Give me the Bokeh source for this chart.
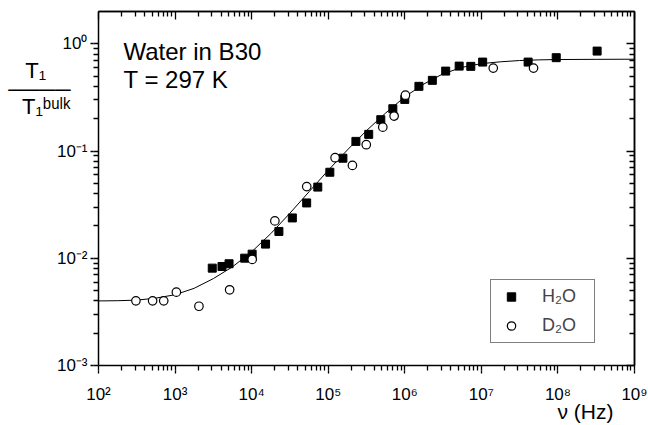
from bokeh.plotting import figure
from bokeh.models import (Range1d, FixedTicker, LogAxis, Label,
                          Legend, LegendItem, CustomJSTickFormatter)
from bokeh.embed import file_html
from bokeh.resources import INLINE

# ---------------- data ----------------
h2o_nu = [3060, 4100, 5070, 8110, 10150, 15200, 22700, 34000, 52300, 73100,
          105000, 155500, 230000, 338000, 486000, 698000, 1.0e6, 1.53e6,
          2.29e6, 3.42e6, 5.13e6, 7.28e6, 1.04e7, 4.08e7, 9.5e7, 3.25e8]
h2o_ratio = [0.00809, 0.00838, 0.00889, 0.01002, 0.01092, 0.01355, 0.01778,
             0.02377, 0.0328, 0.0461, 0.0634, 0.0857, 0.123, 0.143, 0.196,
             0.248, 0.303, 0.401, 0.456, 0.556, 0.619, 0.616, 0.675, 0.675,
             0.742, 0.855]

d2o_nu = [308, 509, 711, 1040, 2050, 5160, 10170, 20100, 52400, 123000,
          207000, 314000, 516000, 726000, 1.02e6, 1.43e7, 4.8e7]
d2o_ratio = [0.00401, 0.00401, 0.00401, 0.00483, 0.00357, 0.00508, 0.00975,
             0.0223, 0.0466, 0.0866, 0.0734, 0.1145, 0.167, 0.212, 0.332,
             0.593, 0.593]

# fitted curve
fit_nu = [100, 178, 316, 562, 1000, 1780, 3160, 5620, 1e4, 1.78e4, 3.16e4,
          5.62e4, 1e5, 1.78e5, 3.16e5, 5.62e5, 1e6, 1.78e6, 3.16e6, 5.62e6,
          1e7, 1.78e7, 3.16e7, 5.62e7, 1e8, 3.16e8, 1e9]
fit_ratio = [0.00400, 0.00402, 0.00407, 0.00425, 0.00457, 0.00525, 0.00646,
             0.00832, 0.01148, 0.01698, 0.0263, 0.0417, 0.0661, 0.1023, 0.155,
             0.226, 0.320, 0.422, 0.525, 0.603, 0.653, 0.679, 0.698, 0.708,
             0.713, 0.716, 0.718]

x_limits = [1e2, 1e9]
y_limits = [1e-3, 2.0]
x_exponents = [2, 3, 4, 5, 6, 7, 8, 9]
y_exponents = [-3, -2, -1, 0]

title_lines = ["Water in B30", "T = 297 K"]
legend_labels = ["H\u2082O", "D\u2082O"]
x_label = "\u03bd (Hz)"
# y label: numerator, fraction bar, denominator (read top to bottom)
y_label_lines = ["T\u2081\u00a0\u00a0\u00a0\u00a0",
                 "\u2500\u2500\u2500\u2500",
                 "T\u2081\u1d47\u1d58\u02e1\u1d4f"]

FONT = "Liberation Sans"

# positions (data coordinates) used to place the texts
title_pos_x = 212
title_pos_y = [0.845, 0.463]
x_label_pos = 2.29e8
y_label_pos = [0.5615, 0.3729, 0.2615]

x_major = [10.0 ** e for e in x_exponents]
x_minor = [m * 10.0 ** e for e in x_exponents[:-1] for m in range(2, 10)]
y_major = [10.0 ** e for e in y_exponents]
y_minor = [m * 10.0 ** e for e in y_exponents for m in range(2, 10)
           if m * 10.0 ** e < y_limits[1]]

p = figure(width=648, height=425, x_axis_type="log", y_axis_type="log",
           x_range=Range1d(*x_limits), y_range=Range1d(*y_limits),
           output_backend="svg", toolbar_location=None,
           min_border_left=98, min_border_right=14, min_border_top=11,
           min_border_bottom=60)
p.background_fill_color = "white"
p.border_fill_color = "white"
p.outline_line_color = None
p.xgrid.grid_line_color = None
p.ygrid.grid_line_color = None

sup_fmt = CustomJSTickFormatter(code="""
const sup = {'0':'\u2070','1':'\u00b9','2':'\u00b2','3':'\u00b3','4':'\u2074',
             '5':'\u2075','6':'\u2076','7':'\u2077','8':'\u2078','9':'\u2079',
             '-':'\u207b'};
const e = Math.round(Math.log10(tick));
return '10' + String(e).split('').map(c => sup[c]).join('');
""")
blank = CustomJSTickFormatter(code="return ''")


def style_axis(ax, ticks, tin, tout, line=True, labels=False, standoff=0):
    """Axis whose (major) tick marks sit at `ticks`."""
    ax.ticker = FixedTicker(ticks=ticks, minor_ticks=[])
    ax.axis_line_color = "black" if line else None
    ax.axis_line_width = 1.5
    ax.major_tick_line_color = "black"
    ax.major_tick_line_width = 1.3
    ax.minor_tick_line_color = None
    ax.major_tick_in = tin
    ax.major_tick_out = tout
    ax.minor_tick_in = 0
    ax.minor_tick_out = 0
    ax.major_label_standoff = standoff
    if labels:
        ax.formatter = sup_fmt
        ax.major_label_text_font = FONT
        ax.major_label_text_font_size = "17px"
        ax.major_label_text_color = "black"
    else:
        ax.formatter = blank
        ax.major_label_text_font_size = "0px"
    return ax


# bottom: frame line + all ticks (5 px), then decade ticks (3 px more) + labels
style_axis(p.xaxis[0], x_major + x_minor, 0, 5)
p.add_layout(style_axis(LogAxis(), x_major, 0, 3, line=False, labels=True,
                        standoff=11), "below")
# left: same construction
style_axis(p.yaxis[0], y_major + y_minor, 0, 5)
p.add_layout(style_axis(LogAxis(), y_major, 0, 3, line=False, labels=True,
                        standoff=3), "left")
# top and right: inward ticks, decades longer
p.add_layout(style_axis(LogAxis(), x_minor, 5, 0), "above")
p.add_layout(style_axis(LogAxis(), x_major, 8, 0), "above")
p.add_layout(style_axis(LogAxis(), y_minor, 5, 0), "right")
p.add_layout(style_axis(LogAxis(), y_major, 8, 0), "right")


def text_axis(ticks, labels, size, standoff):
    ax = LogAxis(ticker=FixedTicker(ticks=ticks, minor_ticks=[]),
                 formatter=CustomJSTickFormatter(args=dict(labels=labels),
                                                 code="return labels[index];"))
    ax.axis_line_color = None
    ax.major_tick_line_color = None
    ax.minor_tick_line_color = None
    ax.major_tick_in = 0
    ax.major_tick_out = 0
    ax.minor_tick_in = 0
    ax.minor_tick_out = 0
    ax.major_label_text_font = FONT
    ax.major_label_text_font_size = size
    ax.major_label_text_color = "black"
    ax.major_label_standoff = standoff
    return ax


# x axis label, right part below the tick labels
p.add_layout(text_axis([x_label_pos], [x_label], "21px", -7), "below")
# y axis label as a stacked fraction left of the tick labels
p.add_layout(text_axis(y_label_pos, y_label_lines, "22px", -17), "left")

# ---------------- glyphs ----------------
p.line(fit_nu, fit_ratio, line_color="black", line_width=1)
sq = p.scatter(h2o_nu, h2o_ratio, marker="square", size=8,
               fill_color="black", line_color="black", line_width=1)
ci = p.scatter(d2o_nu, d2o_ratio, marker="circle", size=8.5,
               fill_color="white", line_color="black", line_width=1.2)

legend = Legend(items=[LegendItem(label=legend_labels[0], renderers=[sq]),
                       LegendItem(label=legend_labels[1], renderers=[ci])],
                location=(392, 22), margin=0, padding=6, spacing=8,
                glyph_width=28, glyph_height=21, label_height=21,
                label_width=46, label_standoff=17,
                label_text_font=FONT, label_text_font_size="18px",
                border_line_color="black", border_line_width=1,
                background_fill_color="white", background_fill_alpha=1)
p.add_layout(legend)

for txt, ty in zip(title_lines, title_pos_y):
    p.add_layout(Label(text=txt, x=title_pos_x, y=ty, text_font=FONT,
                       text_font_size="24px", text_align="left",
                       text_baseline="alphabetic", text_color="black"))

open("out.html", "w").write(file_html(p, INLINE))
